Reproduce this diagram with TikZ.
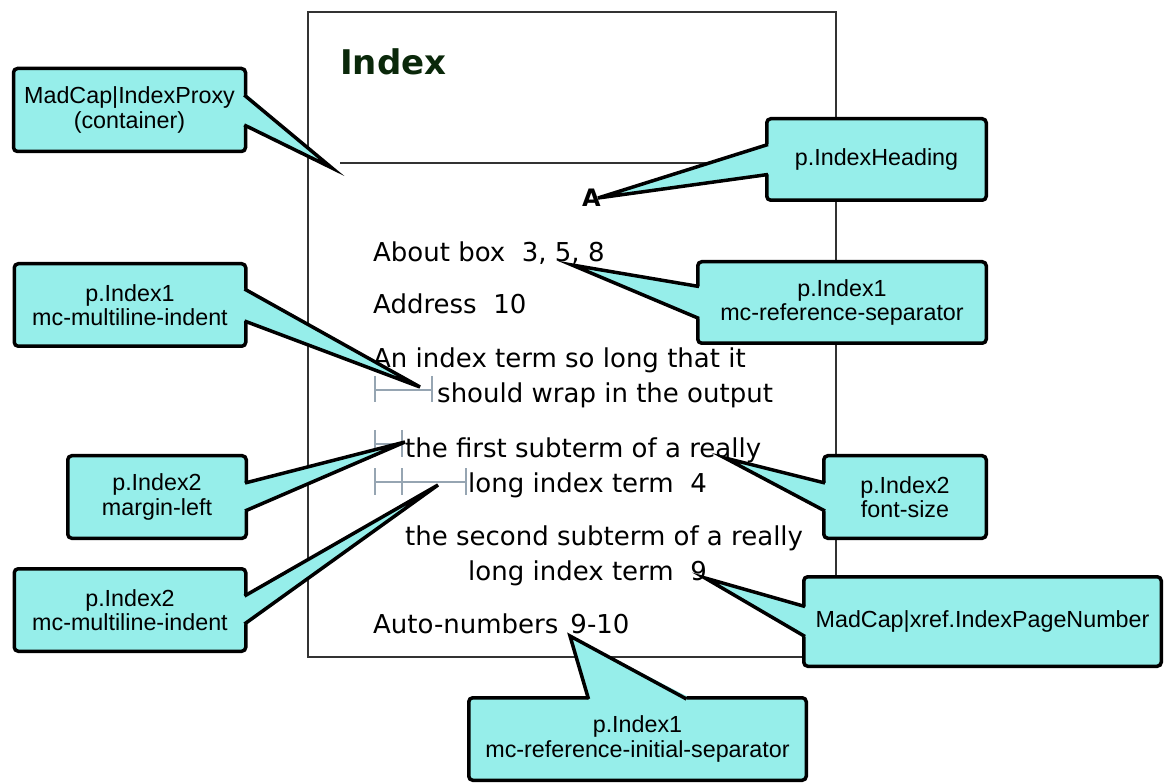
\documentclass[tikz,border=0pt]{standalone}
\usepackage{fontspec}
\setmainfont{Liberation Sans}
\newfontfamily\pagefont{DejaVu Sans}
\usetikzlibrary{calc}

\definecolor{bubblecyan}{RGB}{150,238,234}
\definecolor{headgreen}{RGB}{10,40,10}
\definecolor{markgray}{RGB}{150,165,178}

\tikzset{
    bubble/.style={draw=black,line width=3.5pt,fill=bubblecyan,rounded corners=4pt,align=center,inner sep=2pt,font=\fontsize{23.3}{24.5}\selectfont},
    bubblefill/.style={fill=bubblecyan},
    bubbleline/.style={draw=black,line width=3.5pt},
    entry/.style={anchor=base west,inner sep=0pt,font=\pagefont\fontsize{26}{30}\selectfont},
    pageline/.style={draw=black!80,line width=1.2pt},
    indentmark/.style={draw=markgray,line width=2pt}
}

% pointer of a bubble: side anchor, half base, inward shift, tip
\newcommand{\bubbletip}[4]{%
    \fill[bubblefill] ($(#1)+#2+#3$) -- ($(#1)+#2$) -- (#4) -- ($(#1)-#2$) -- ($(#1)-#2+#3$) -- cycle;
    \draw[bubbleline] ($(#1)+#2+0.5*#3$) -- (#4) -- ($(#1)-#2+0.5*#3$);}

\begin{document}
\begin{tikzpicture}[x=1pt,y=-1pt]
            \useasboundingbox (0,0) rectangle (1165,783);

            % the index page
            \draw[pageline] (308,12) rectangle (836,657);
            \node[anchor=base west,inner sep=0pt,text=headgreen,font=\pagefont\bfseries\fontsize{34}{40}\selectfont] (title) at (340,75) {Index};
            \draw[pageline] (340,163) -- (836,163);
            \node[entry,font=\pagefont\bfseries\fontsize{24}{28}\selectfont] (letterA) at (582,207) {A};

            \node[entry] (about) at (373,262) {About box~~3, 5, 8};
            \node[entry] (address) at (373,314) {Address~~10};
            \node[entry] (longterm) at (373,368) {An index term so long that it};
            \node[entry] (longwrap) at (437,403) {should wrap in the output};
            \node[entry] (subone) at (405,457) {the first subterm of a really};
            \node[entry] (subonewrap) at (468,493) {long index term~~4};
            \node[entry] (subtwo) at (405,545) {the second subterm of a really};
            \node[entry] (subtwowrap) at (468,580) {long index term~~9};
            \node[entry] (autonum) at (373,633) {Auto-numbers\hspace{12pt}9-10};

            % indent marks
            \draw[indentmark] (375,390) -- (432,390);
            \foreach \x in {375,432} \draw[indentmark] (\x,376) -- (\x,402);
            \draw[indentmark] (375,444) -- (402,444);
            \foreach \x in {375,402} \draw[indentmark] (\x,430) -- (\x,457);
            \draw[indentmark] (375,482) -- (466,482);
            \foreach \x in {375,402,466} \draw[indentmark] (\x,468) -- (\x,495);

            % bubbles
            \node[bubble,minimum width=232pt,minimum height=83pt] (proxy) at (129.5,110) {MadCap|IndexProxy\\(container)};
            \node[bubble,minimum width=219.5pt,minimum height=81.5pt] (heading) at (876.5,159.5) {p.IndexHeading};
            \node[bubble,minimum width=288.5pt,minimum height=81.5pt] (refsep) at (842,302.5) {p.Index1\\mc-reference-separator};
            \node[bubble,minimum width=231.5pt,minimum height=82.5pt] (indentone) at (130,305) {p.Index1\\mc-multiline-indent};
            \node[bubble,minimum width=178.5pt,minimum height=82.5pt] (margin) at (157,497) {p.Index2\\margin-left};
            \node[bubble,minimum width=231.5pt,minimum height=82.5pt] (indenttwo) at (130,610) {p.Index2\\mc-multiline-indent};
            \node[bubble,minimum width=162.5pt,minimum height=82.5pt] (fontsize) at (905,497) {p.Index2\\font-size};
            \node[bubble,minimum width=357.5pt,minimum height=89.5pt] (pagenum) at (982.5,621.5) {MadCap|xref.IndexPageNumber};
            \node[bubble,minimum width=337.5pt,minimum height=82.5pt] (initsep) at (637.5,739) {p.Index1\\mc-reference-initial-separator};

            \coordinate (proxytip) at (332,168);
            \coordinate (headtip) at (598,198);
            \coordinate (septip) at (572,265);
            \coordinate (indentonetip) at (420,387);
            \coordinate (margintip) at (405,442);
            \coordinate (indenttwotip) at (438,485);
            \coordinate (sizetip) at (725,458);
            \coordinate (pagetip) at (705,578);
            \coordinate (initseptip) at (570,636);

            \bubbletip{proxy.east}{(0,15)}{(-6,0)}{proxytip}
            \bubbletip{heading.west}{(0,15)}{(6,0)}{headtip}
            \bubbletip{refsep.west}{(0,16)}{(6,0)}{septip}
            \bubbletip{indentone.east}{(0,16)}{(-6,0)}{indentonetip}
            \bubbletip{margin.east}{(0,14)}{(-6,0)}{margintip}
            \bubbletip{indenttwo.east}{(0,14)}{(-6,0)}{indenttwotip}
            \bubbletip{fontsize.west}{(0,14)}{(6,0)}{sizetip}
            \bubbletip{pagenum.west}{(0,15)}{(6,0)}{pagetip}
            \bubbletip{initsep.north}{(49,0)}{(0,6)}{initseptip}
        \end{tikzpicture}
\end{document}
